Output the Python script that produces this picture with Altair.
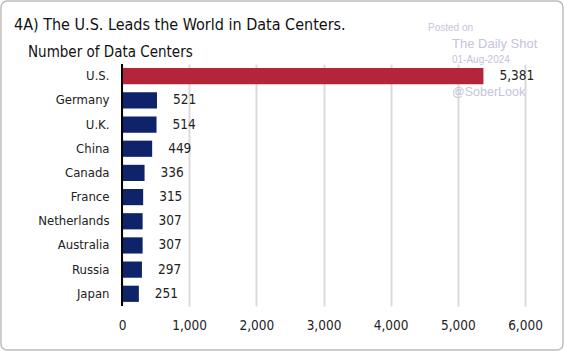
import altair as alt
import pandas as pd

countries = ["U.S.", "Germany", "U.K.", "China", "Canada", "France",
             "Netherlands", "Australia", "Russia", "Japan"]
values = [5381, 521, 514, 449, 336, 315, 307, 307, 297, 251]
labels = ["5,381", "521", "514", "449", "336", "315", "307", "307", "297", "251"]
colors = ["#B5253A"] + ["#0E2369"] * 9

df = pd.DataFrame({"country": countries, "value": values, "label": labels, "color": colors})

FONT = "'DejaVu Sans Condensed', Roboto, sans-serif"
W, H = 403, 242

base = alt.Chart(df)

y_enc = alt.Y("country:N", sort=countries,
              scale=alt.Scale(paddingInner=0.33, paddingOuter=0.17),
              axis=alt.Axis(title=None, domain=False, ticks=False, labelPadding=13,
                            labelFontSize=13, labelColor="#222", labelFont=FONT))
x_enc = alt.X("value:Q", scale=alt.Scale(domain=[0, 6000], nice=False),
              axis=alt.Axis(title=None, values=[0, 1000, 2000, 3000, 4000, 5000, 6000],
                            labelExpr="format(datum.value, ',')", labelFlush=False,
                            domain=False, ticks=False, grid=True,
                            gridColor="#dadada", gridWidth=2, labelPadding=12,
                            labelFontSize=13.5, labelColor="#222", labelFont=FONT))

bars = base.mark_bar().encode(
    x=x_enc, y=y_enc, color=alt.Color("color:N", scale=None)
)

text = base.mark_text(align="left", dx=16, fontSize=13.5, font=FONT, color="#222").encode(
    x=x_enc, y=y_enc, text="label:N"
)

zero = alt.Chart(pd.DataFrame({"value": [0]})).mark_rule(color="black", strokeWidth=2).encode(
    x=x_enc)

title = alt.Chart(pd.DataFrame({"t": ["4A)  The U.S. Leads the World in Data Centers."]})).mark_text(
    align="left", baseline="alphabetic", fontSize=16, font=FONT, color="#111"
).encode(text="t:N", x=alt.value(-108), y=alt.value(-34))

subtitle = alt.Chart(pd.DataFrame({"t": ["Number of Data Centers"]})).mark_text(
    align="left", baseline="alphabetic", fontSize=15, font=FONT, color="#111"
).encode(text="t:N", x=alt.value(-94), y=alt.value(-7))

wm_rows = pd.DataFrame({
    "t": ["Posted on", "The Daily Shot", "01-Aug-2024", "@SoberLook"],
    "x": [306, 330, 330, 330],
    "y": [-36, -20, -4, 28],
    "s": [10, 13, 10, 12.5],
})
wm = alt.Chart(wm_rows).mark_text(
    align="left", baseline="middle", font="Liberation Sans", color="#c4c4dc"
).encode(text="t:N", x=alt.X("x:Q", scale=None, axis=None), y=alt.Y("y:Q", scale=None, axis=None),
         size=alt.Size("s:Q", scale=None, legend=None))

frame = alt.Chart(pd.DataFrame({"a": [0]})).mark_rect(
    fill=None, stroke="#bdbdbd", strokeWidth=1.5, cornerRadius=6
).encode(x=alt.value(-121), x2=alt.value(441), y=alt.value(-63), y2=alt.value(286))

chart = alt.layer(bars, zero, text, title, subtitle, wm, frame).properties(
    width=W, height=H,
    padding={"left": 122, "top": 64, "right": 39, "bottom": 45},
    autosize=alt.AutoSizeParams(type="none"),
    background="white",
).configure_view(stroke=None)

chart.save("out.html", embed_options={"renderer": "svg", "actions": False})
